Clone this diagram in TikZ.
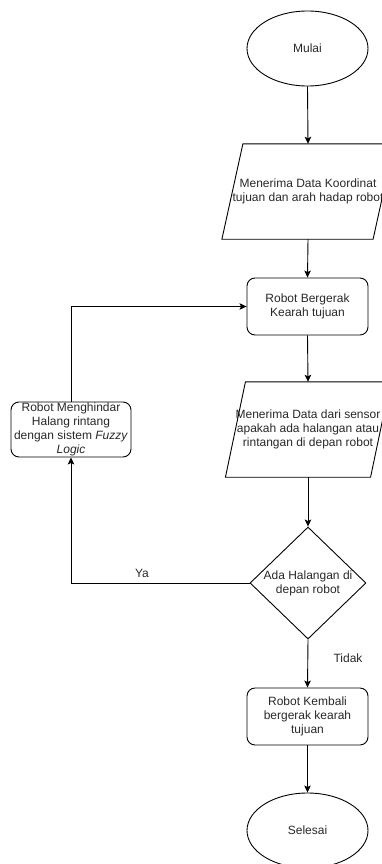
\documentclass[tikz,border=0pt]{standalone}
\usepackage{fontspec}
\setmainfont{Liberation Sans}
\usetikzlibrary{shapes.geometric,arrows.meta,calc}
\definecolor{txt}{RGB}{40,40,40}
\begin{document}
\begin{tikzpicture}[x=1pt,y=-1pt,
  every node/.style={font=\fontsize{12}{14}\selectfont, text=txt},
  term/.style={ellipse, draw=black, line width=0.9pt, minimum width=121pt, minimum height=75pt, inner sep=0pt},
  proc/.style={rectangle, rounded corners=8pt, draw=black, line width=0.9pt, minimum width=121pt, minimum height=57pt, inner sep=0pt, align=center},
  iobox/.style={rectangle, minimum height=95pt, inner sep=0pt, align=center},
  dec/.style={diamond, draw=black, line width=0.9pt, minimum width=116pt, minimum height=112pt, inner sep=0pt},
  lbl/.style={align=center, inner sep=0pt},
  flow/.style={draw=black, line width=0.9pt, -{Stealth[length=7pt,width=6.5pt,inset=1.5pt]}},
  outline/.style={draw=black, line width=0.9pt}
]
\useasboundingbox (0,0) rectangle (382,864);

\node[term] (start) at (307.5,48.5) {Mulai};

\node[iobox, minimum width=135pt] (in1) at (308,191.5) {Menerima Data Koordinat\\tujuan dan arah hadap robot};
\draw[outline] ($(in1.north west)+(10.5,0)$) -- ($(in1.north east)+(10.5,0)$) -- ($(in1.south east)+(-10.5,0)$) -- ($(in1.south west)+(-10.5,0)$) -- cycle;

\node[proc] (act1) at (307.5,306.5) {Robot Bergerak\\Kearah tujuan};

\node[iobox, minimum width=144pt] (in2) at (308,429.5) {Menerima Data dari sensor\\apakah ada halangan atau\\rintangan di depan robot};
\draw[outline] ($(in2.north west)+(10,0)$) -- ($(in2.north east)+(10,0)$) -- ($(in2.south east)+(-10,0)$) -- ($(in2.south west)+(-10,0)$) -- cycle;

\node[dec] (dec) at (308,583) {};
\node[lbl] (dectext) at (308,583) {Ada Halangan di\\depan robot};

\node[proc] (act2) at (307.5,716.5) {Robot Kembali\\bergerak kearah\\tujuan};

\node[term] (stop) at (307.5,830.5) {Selesai};

\node[proc, minimum width=120pt, minimum height=55pt] (avoid) at (71,429.5) {Robot Menghindar\\Halang rintang\\dengan sistem \textit{Fuzzy}\\\textit{Logic}};

\draw[flow] (start.south) -- (in1.north);
\draw[flow] (in1.south) -- (act1.north);
\draw[flow] (act1.south) -- (in2.north);
\draw[flow] (in2.south) -- (dec.north);
\draw[flow] (dec.south) -- (act2.north);
\draw[flow] (act2.south) -- (stop.north);
\draw[flow] (dec.west) -| (avoid.south);
\draw[flow] (avoid.north) |- (act1.west);

\node[lbl] (ya) at (142,573) {Ya};
\node[lbl] (tidak) at (348,658) {Tidak};
\end{tikzpicture}
\end{document}
